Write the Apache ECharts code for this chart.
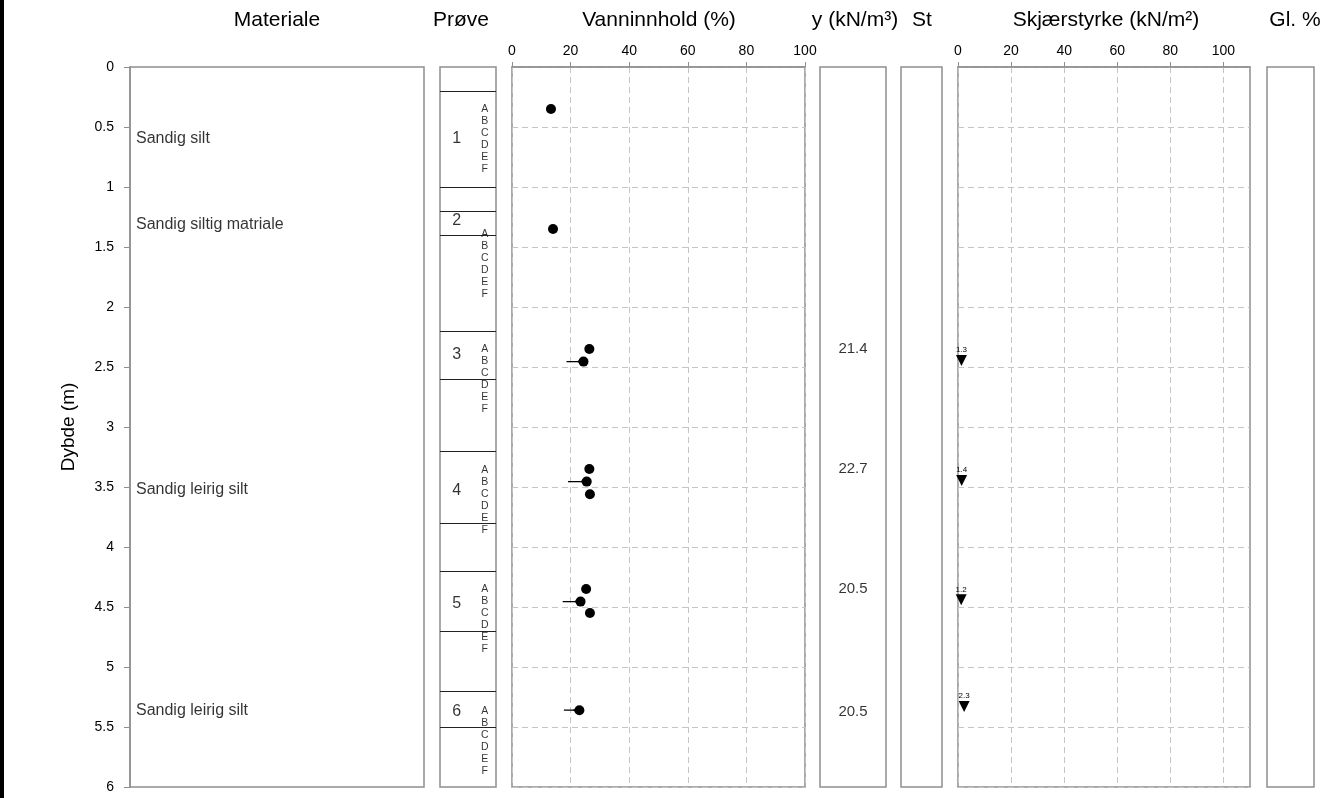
<!DOCTYPE html>
<html>
<head>
<meta charset="utf-8">
<script src="https://cdn.jsdelivr.net/npm/echarts@6/dist/echarts.min.js"></script>
<style>html,body{margin:0;padding:0;background:#fff}#c{width:1331px;height:798px}</style>
</head>
<body>
<div id="c"></div>
<script>
// ---- data ----
const headers = ['Materiale', 'Prøve', 'Vanninnhold (%)', 'y (kN/m³)', 'St', 'Skjærstyrke (kN/m²)', 'Gl. %'];
const depthTicks = [0, 0.5, 1, 1.5, 2, 2.5, 3, 3.5, 4, 4.5, 5, 5.5, 6];
const waterTicks = [0, 20, 40, 60, 80, 100];
const shearTicks = [0, 20, 40, 60, 80, 100];

const materialNames = ['Sandig silt', 'Sandig siltig matriale', 'Sandig leirig silt', 'Sandig leirig silt'];
const materialDepths = [0.6, 1.31, 3.52, 5.36];

const sampleNos = ['1', '2', '3', '4', '5', '6'];
const sampleNoDepths = [0.6, 1.28, 2.4, 3.53, 4.47, 5.37];
const sampleLetters = ['A', 'B', 'C', 'D', 'E', 'F'];
const letterBlockDepths = [0.6, 1.64, 2.6, 3.61, 4.6, 5.62];
const sampleLineDepths = [0.2, 1.0, 1.2, 1.4, 2.2, 2.6, 3.2, 3.8, 4.2, 4.7, 5.2, 5.5];

const waterDepths = [0.35, 1.35, 2.35, 2.455, 3.35, 3.455, 3.56, 4.35, 4.455, 4.55, 5.36];
const waterValues = [13.3, 14.0, 26.4, 24.4, 26.4, 25.5, 26.6, 25.3, 23.4, 26.6, 23.0];

const limitDepths = [2.455, 3.455, 4.455, 5.36];
const limitLow = [18.6, 19.1, 17.3, 17.7];
const limitHigh = [24.4, 25.5, 23.4, 23.0];

const unitWeightDepths = [2.35, 3.35, 4.35, 5.37];
const unitWeights = ['21.4', '22.7', '20.5', '20.5'];

const shearDepths = [2.445, 3.445, 4.44, 5.33];
const shearValues = [1.3, 1.4, 1.2, 2.3];

// ---- layout ----
const TOP = 67, H = 720;
const panels = [
  {left: 130, width: 294},
  {left: 440, width: 56},
  {left: 512, width: 293},
  {left: 820, width: 66},
  {left: 901, width: 41},
  {left: 958, width: 292},
  {left: 1267, width: 47}
];
const headerX = [277, 461, 659, 855, 922, 1106, 1295];
const BORDER = '#8f8f8f';
const DASH = {color: '#c4c4c4', width: 1, type: [6, 4]};
const FONT = 'Liberation Sans, Arial, sans-serif';

const grids = panels.map(p => ({left: p.left, width: p.width, top: TOP, height: H, show: true,
  borderColor: BORDER, borderWidth: 1.5, backgroundColor: 'transparent'}));

function hiddenX(i) { return {gridIndex: i, type: 'value', min: 0, max: 1, show: false}; }
function valueX(i, max, ticks) {
  return {gridIndex: i, type: 'value', min: 0, max: max, interval: 20, position: 'top',
    axisLine: {show: true, lineStyle: {color: BORDER, width: 1.5}},
    axisTick: {show: true, length: 5, inside: false, lineStyle: {color: BORDER}, customValues: ticks},
    axisLabel: {show: true, color: '#000', fontSize: 14, fontFamily: FONT, margin: 9, customValues: ticks},
    splitLine: {show: true, lineStyle: DASH}};
}
const xAxes = [hiddenX(0), hiddenX(1), valueX(2, 100, waterTicks), hiddenX(3), hiddenX(4), valueX(5, 110, shearTicks), hiddenX(6)];

const yAxes = panels.map((p, i) => {
  const base = {gridIndex: i, type: 'value', min: 0, max: 6, interval: 0.5, inverse: true};
  if (i === 0) {
    return Object.assign(base, {
      name: 'Dybde (m)', nameLocation: 'middle', nameGap: 52,
      nameTextStyle: {fontSize: 19, color: '#000', fontFamily: FONT},
      axisLine: {show: true, lineStyle: {color: BORDER, width: 1.5}},
      axisTick: {show: true, length: 6, lineStyle: {color: BORDER}},
      axisLabel: {show: true, color: '#000', fontSize: 14, fontFamily: FONT, margin: 16,
        customValues: depthTicks, formatter: v => String(v)},
      splitLine: {show: false}
    });
  }
  return Object.assign(base, {
    axisLine: {show: false}, axisTick: {show: false}, axisLabel: {show: false},
    splitLine: {show: i === 2 || i === 5, lineStyle: DASH}
  });
});

const series = [];
// Materiale
series.push({type: 'scatter', xAxisIndex: 0, yAxisIndex: 0, symbolSize: 0.01, silent: true,
  data: materialDepths.map(d => [0, d]),
  label: {show: true, position: 'right', distance: 6, color: '#000', fontSize: 16, fontFamily: FONT,
    formatter: p => materialNames[p.dataIndex]}});
// Prøve lines
series.push({type: 'scatter', xAxisIndex: 1, yAxisIndex: 1, data: [], silent: true,
  markLine: {silent: true, symbol: 'none', animation: false, label: {show: false},
    lineStyle: {color: '#222', width: 1, type: 'solid'},
    data: sampleLineDepths.map(d => ({yAxis: d}))}});
// sample numbers
series.push({type: 'scatter', xAxisIndex: 1, yAxisIndex: 1, symbolSize: 0.01, silent: true,
  data: sampleNoDepths.map(d => [0.3, d]),
  label: {show: true, position: 'inside', color: '#000', fontSize: 16, fontFamily: FONT,
    formatter: p => sampleNos[p.dataIndex]}});
// letters
series.push({type: 'scatter', xAxisIndex: 1, yAxisIndex: 1, symbolSize: 0.01, silent: true,
  data: letterBlockDepths.map(d => [0.8, d]),
  label: {show: true, position: 'inside', color: '#000', fontSize: 10.5, lineHeight: 12, fontFamily: FONT,
    formatter: () => sampleLetters.join('\n')}});
// limit lines
limitDepths.forEach((d, i) => {
  series.push({type: 'line', xAxisIndex: 2, yAxisIndex: 2, silent: true, animation: false,
    lineStyle: {color: '#000', width: 1.3}, itemStyle: {color: '#000', opacity: 1},
    data: [{value: [limitLow[i], d], symbol: 'none'},
           {value: [limitHigh[i], d], symbol: 'triangle', symbolSize: 8, symbolRotate: 90, symbolOffset: [-3, 0]}]});
});
// water content
series.push({type: 'scatter', xAxisIndex: 2, yAxisIndex: 2, symbol: 'circle', symbolSize: 10,
  itemStyle: {color: '#000', opacity: 1}, data: waterDepths.map((d, i) => [waterValues[i], d])});
// unit weight
series.push({type: 'scatter', xAxisIndex: 3, yAxisIndex: 3, symbolSize: 0.01, silent: true,
  data: unitWeightDepths.map(d => [0.5, d]),
  label: {show: true, position: 'inside', color: '#000', fontSize: 15, fontFamily: FONT,
    formatter: p => unitWeights[p.dataIndex]}});
// shear strength
series.push({type: 'scatter', xAxisIndex: 5, yAxisIndex: 5, symbol: 'triangle', symbolRotate: 180, symbolSize: 11,
  itemStyle: {color: '#000', opacity: 1}, data: shearDepths.map((d, i) => [shearValues[i], d]),
  label: {show: true, position: 'top', distance: 1, color: '#000', fontSize: 8, fontFamily: FONT,
    formatter: p => String(shearValues[p.dataIndex])}});

const graphics = [{type: 'rect', shape: {x: 0, y: 0, width: 4, height: 798}, style: {fill: '#000'}, silent: true}];
headers.forEach((h, i) => {
  graphics.push({type: 'text', x: headerX[i], y: 20, silent: true,
    style: {text: h, fill: '#000', font: '21px ' + FONT, textAlign: 'center', textVerticalAlign: 'middle'}});
});

const chart = echarts.init(document.getElementById('c'), null, {renderer: 'canvas'});
chart.setOption({
  animation: false,
  backgroundColor: '#fff',
  textStyle: {fontFamily: FONT},
  grid: grids, xAxis: xAxes, yAxis: yAxes, series: series, graphic: graphics
});
</script>
</body>
</html>
